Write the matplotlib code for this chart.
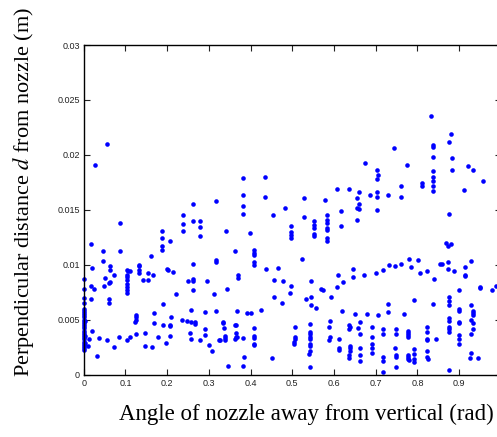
import matplotlib
matplotlib.use('Agg')
import matplotlib.pyplot as plt
import numpy as np

# Angle of nozzle (rad) and perpendicular distance d (m)
angle_rad = [
    # upper band, left part
    0.026, 0.056, 0.086, 0.017, 0.188, 0.188, 0.207, 0.237, 0.237, 0.237, 0.262, 0.262, 0.279, 0.279, 0.279, 0.318,
    0.383, 0.383, 0.383, 0.383, 0.435, 0.435, 0.341, 0.399, 0.454, 0.482, 0.496, 0.496, 0.496, 0.496,
    0.528, 0.528, 0.553, 0.553, 0.553, 0.553, 0.553, 0.579, 0.583, 0.583, 0.583, 0.583, 0.583, 0.583, 0.583,
    0.607, 0.636, 0.616, 0.616,
    # upper band, right part
    0.833, 0.881, 0.875, 0.837, 0.837, 0.745, 0.674, 0.775, 0.837, 0.884, 0.884, 0.921, 0.933, 0.958, 0.912,
    0.703, 0.705, 0.703, 0.703, 0.703, 0.703, 0.660, 0.656, 0.660, 0.656, 0.660, 0.656, 0.687, 0.729,
    0.761, 0.761, 0.812, 0.812, 0.837, 0.837, 0.837, 0.837, 0.837, 0.875, 0.868, 0.874, 0.881,
    # lower left
    0.047, 0.087, 0.047, 0.020, 0.064, 0.064, 0.052, 0.072, 0.064, 0.061, 0.049, 0.018, 0.024, 0.017, 0.060, 0.060,
    0.0, 0.0, 0.0, 0.0, 0.0, 0.0, 0.0, 0.0, 0.0, 0.0, 0.0, 0.0, 0.0, 0.0, 0.0, 0.0, 0.0, 0.0, 0.0, 0.0, 0.0, 0.0,
    0.0, 0.0, 0.002, 0.002, 0.002,
    0.104, 0.104, 0.104, 0.104, 0.104, 0.104, 0.104, 0.104, 0.107, 0.112, 0.132, 0.132, 0.132, 0.132, 0.143,
    0.154, 0.154, 0.166, 0.160, 0.188, 0.188, 0.199, 0.201, 0.214, 0.220, 0.191, 0.250, 0.262, 0.262, 0.262,
    0.262, 0.295, 0.316, 0.318, 0.312, 0.316, 0.290, 0.257, 0.248, 0.258, 0.235, 0.208, 0.207, 0.206, 0.191,
    0.207, 0.197, 0.178, 0.168, 0.168, 0.164, 0.147, 0.147, 0.124, 0.124, 0.124, 0.123, 0.126, 0.112, 0.103,
    0.084, 0.072, 0.056, 0.036, 0.031, 0.019, 0.013, 0.010, 0.278, 0.266, 0.266, 0.255, 0.256, 0.290, 0.291,
    0.300, 0.308, 0.325,
    # lower middle
    0.362, 0.408, 0.408, 0.408, 0.408, 0.408, 0.371, 0.371, 0.343, 0.367, 0.392, 0.400, 0.424, 0.437, 0.466,
    0.457, 0.477, 0.456, 0.498, 0.494, 0.475, 0.523, 0.546, 0.533, 0.546, 0.546, 0.556, 0.569, 0.574, 0.594,
    0.610, 0.622, 0.607, 0.646, 0.646, 0.620, 0.650, 0.335, 0.335, 0.336, 0.327, 0.339, 0.339, 0.339, 0.362,
    0.364, 0.364, 0.364, 0.362, 0.367, 0.383, 0.408, 0.407, 0.408, 0.408, 0.408, 0.385, 0.345, 0.383, 0.452,
    0.507, 0.506, 0.506, 0.505, 0.503, 0.542, 0.542, 0.542, 0.542, 0.542, 0.542, 0.542, 0.542, 0.541, 0.542,
    0.591, 0.589, 0.591, 0.589, 0.612, 0.612, 0.612, 0.636, 0.638, 0.637, 0.638, 0.638, 0.638, 0.637, 0.636,
    # lower right
    0.671, 0.701, 0.718, 0.731, 0.746, 0.761, 0.780, 0.785, 0.801, 0.806, 0.824, 0.840, 0.855, 0.859, 0.873,
    0.874, 0.889, 0.914, 0.914, 0.915, 0.928, 0.900, 0.951, 0.951, 0.978, 0.988, 0.791, 0.837, 0.729, 0.729,
    0.769, 0.680, 0.705,
    0.875, 0.875, 0.875, 0.875, 0.875, 0.875, 0.875, 0.875, 0.875,
    0.900, 0.900, 0.900, 0.900, 0.900, 0.900, 0.900,
    0.928, 0.933, 0.933, 0.933, 0.928, 0.933, 0.933, 0.928, 0.928, 0.926, 0.946, 0.845,
    0.824, 0.824, 0.824, 0.824, 0.824, 0.822, 0.825,
    0.791, 0.791, 0.791, 0.791,
    0.777, 0.777, 0.777, 0.777, 0.777, 0.777, 0.777, 0.779,
    0.749, 0.749, 0.747, 0.749, 0.749, 0.749,
    0.718, 0.718, 0.718, 0.718, 0.718,
    0.690, 0.690, 0.690, 0.690, 0.690,
    0.662, 0.658, 0.662, 0.662, 0.662, 0.662,
]

perp_dist_m = [
    0.0191, 0.0210, 0.0138, 0.0119, 0.0131, 0.0124, 0.0122, 0.0145, 0.0137, 0.0131, 0.0155, 0.0140, 0.0140, 0.0134, 0.0126, 0.0158,
    0.0179, 0.0163, 0.0153, 0.0146, 0.0180, 0.0162, 0.0131, 0.0129, 0.0145, 0.0152, 0.0135, 0.0130, 0.0127, 0.0124,
    0.0161, 0.0143, 0.0140, 0.0136, 0.0133, 0.0128, 0.0126, 0.0159, 0.0145, 0.0141, 0.0138, 0.0133, 0.0132, 0.0124, 0.0122,
    0.0169, 0.0169, 0.0149, 0.0135,
    0.0235, 0.0219, 0.0212, 0.0209, 0.0207, 0.0206, 0.0193, 0.0191, 0.0198, 0.0197, 0.0186, 0.0190, 0.0186, 0.0176, 0.0168,
    0.0186, 0.0182, 0.0178, 0.0166, 0.0162, 0.0150, 0.0166, 0.0161, 0.0155, 0.0152, 0.0151, 0.0141, 0.0163, 0.0163,
    0.0172, 0.0162, 0.0174, 0.0172, 0.0185, 0.0180, 0.0176, 0.0172, 0.0167, 0.0146, 0.0120, 0.0117, 0.0119,
    0.0112, 0.0112, 0.0103, 0.0097, 0.0099, 0.0095, 0.0088, 0.0091, 0.0084, 0.0083, 0.0081, 0.0081, 0.0078, 0.0069, 0.0069, 0.0065,
    0.0087, 0.0078, 0.0070, 0.0065, 0.0060, 0.0058, 0.0056, 0.0054, 0.0052, 0.0050, 0.0048, 0.0046, 0.0044, 0.0042, 0.0040, 0.0038,
    0.0036, 0.0034, 0.0032, 0.0030, 0.0028, 0.0026, 0.0024, 0.0022, 0.0049, 0.0035, 0.0029,
    0.0095, 0.0091, 0.0089, 0.0086, 0.0082, 0.0080, 0.0077, 0.0074, 0.0094, 0.0094, 0.0099, 0.0100, 0.0095, 0.0092, 0.0086,
    0.0092, 0.0086, 0.0091, 0.0108, 0.0117, 0.0113, 0.0096, 0.0095, 0.0093, 0.0073, 0.0064, 0.0085, 0.0101, 0.0087, 0.0085,
    0.0077, 0.0085, 0.0104, 0.0102, 0.0073, 0.0058, 0.0057, 0.0059, 0.0049, 0.0048, 0.0050, 0.0052, 0.0045, 0.0044, 0.0045,
    0.0035, 0.0029, 0.0034, 0.0056, 0.0047, 0.0025, 0.0038, 0.0026, 0.0054, 0.0052, 0.0050, 0.0048, 0.0037, 0.0034, 0.0031,
    0.0034, 0.0025, 0.0031, 0.0033, 0.0017, 0.0040, 0.0032, 0.0026, 0.0031, 0.0048, 0.0046, 0.0038, 0.0032, 0.0041, 0.0036,
    0.0027, 0.0021, 0.0031,
    0.0112, 0.0113, 0.0111, 0.0109, 0.0102, 0.0100, 0.0091, 0.0088, 0.0078, 0.0058, 0.0056, 0.0056, 0.0059, 0.0096, 0.0097,
    0.0086, 0.0085, 0.0071, 0.0081, 0.0074, 0.0065, 0.0105, 0.0085, 0.0069, 0.0071, 0.0063, 0.0061, 0.0078, 0.0077, 0.0071,
    0.0091, 0.0084, 0.0080, 0.0096, 0.0089, 0.0058, 0.0055, 0.0048, 0.0047, 0.0042, 0.0031, 0.0035, 0.0033, 0.0031, 0.0045,
    0.0045, 0.0038, 0.0034, 0.0032, 0.0034, 0.0033, 0.0042, 0.0035, 0.0033, 0.0028, 0.0027, 0.0016, 0.0008, 0.0008, 0.0015,
    0.0043, 0.0034, 0.0032, 0.0030, 0.0028, 0.0046, 0.0039, 0.0037, 0.0034, 0.0032, 0.0028, 0.0026, 0.0021, 0.0019, 0.0007,
    0.0049, 0.0043, 0.0034, 0.0031, 0.0032, 0.0024, 0.0022, 0.0045, 0.0043, 0.0041, 0.0026, 0.0024, 0.0021, 0.0018, 0.0015,
    0.0091, 0.0092, 0.0095, 0.0100, 0.0099, 0.0101, 0.0105, 0.0098, 0.0104, 0.0092, 0.0094, 0.0087, 0.0101, 0.0101, 0.0102,
    0.0096, 0.0094, 0.0098, 0.0091, 0.0090, 0.0103, 0.0077, 0.0080, 0.0079, 0.0077, 0.0081, 0.0068, 0.0064, 0.0064, 0.0057,
    0.0055, 0.0055, 0.0054,
    0.0071, 0.0067, 0.0063, 0.0051, 0.0049, 0.0043, 0.0041, 0.0039, 0.0004,
    0.0060, 0.0058, 0.0048, 0.0047, 0.0036, 0.0032, 0.0028,
    0.0063, 0.0058, 0.0056, 0.0054, 0.0050, 0.0047, 0.0041, 0.0037, 0.0020, 0.0015, 0.0015, 0.0032,
    0.0043, 0.0039, 0.0032, 0.0031, 0.0021, 0.0016, 0.0014,
    0.0023, 0.0019, 0.0014, 0.0011,
    0.0040, 0.0038, 0.0036, 0.0034, 0.0018, 0.0016, 0.0014, 0.0013,
    0.0041, 0.0037, 0.0024, 0.0018, 0.0016, 0.0007,
    0.0041, 0.0037, 0.0016, 0.0012, 0.0002,
    0.0043, 0.0034, 0.0028, 0.0024, 0.0020,
    0.0048, 0.0042, 0.0037, 0.0024, 0.0018, 0.0012,
]

x_ticks = np.arange(0, 1.01, 0.1)
# the "1" label falls off the cropped right edge in the original
x_tick_labels = ['0', '0.1', '0.2', '0.3', '0.4', '0.5', '0.6', '0.7', '0.8', '0.9', '']
y_ticks = [0, 0.005, 0.01, 0.015, 0.02, 0.025, 0.03]
y_tick_labels = ['0', '0.005', '0.01', '0.015', '0.02', '0.025', '0.03']

plt.rcParams['mathtext.fontset'] = 'stix'

fig = plt.figure(figsize=(4.97, 4.37), dpi=100)
# axes runs a little past the right edge of the figure, like the cropped original
ax = fig.add_axes([0.1686, 0.143, 0.839, 0.754])

ax.plot(angle_rad, perp_dist_m, 'o', color='#0000ff', markersize=3.3,
        markeredgewidth=0, clip_on=False)

ax.set_xlim(0, 1)
ax.set_ylim(0, 0.03)
ax.set_xticks(x_ticks)
ax.set_xticklabels(x_tick_labels)
ax.set_yticks(y_ticks)
ax.set_yticklabels(y_tick_labels)

ax.tick_params(direction='in', top=True, right=True, length=4, width=0.8,
               labelsize=6.5, pad=3, colors='#222222')
for lbl in ax.get_xticklabels() + ax.get_yticklabels():
    lbl.set_fontfamily('Liberation Sans')
for sp in ax.spines.values():
    sp.set_linewidth(1.0)

ax.set_xlabel('Angle of nozzle away from vertical (rad)', fontfamily='Liberation Serif', fontsize=16.5)
ax.set_ylabel('Perpendicular distance $d$ from nozzle (m)', fontfamily='Liberation Serif', fontsize=16)
ax.xaxis.set_label_coords(0.533, -0.09)
ax.yaxis.set_label_coords(-0.115, 0.555)

fig.savefig('out.png', dpi=100)
plt.close(fig)
